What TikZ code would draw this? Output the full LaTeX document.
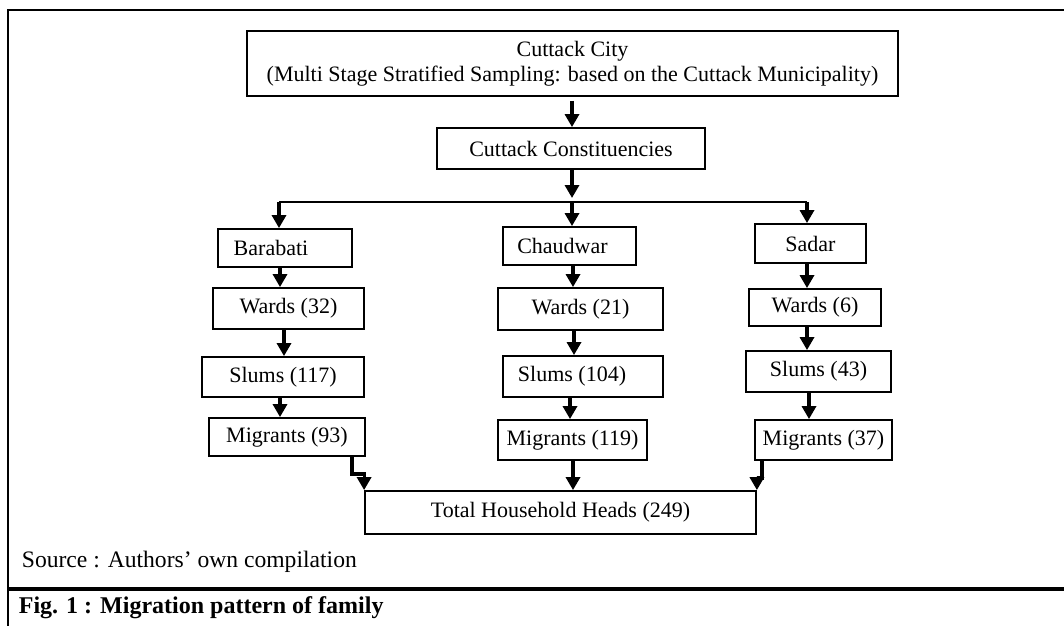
\documentclass[tikz,border=0pt]{standalone}
\usepackage{fontspec}
\setmainfont{Liberation Serif}
\usetikzlibrary{arrows.meta}
\begin{document}
\begin{tikzpicture}[x=0.5pt,y=-0.5pt,
  box/.style={draw, line width=0.9pt, inner sep=0pt, font=\fontsize{11}{12.5}\selectfont, align=center},
  arr/.style={line width=1.6pt, -{Triangle[length=6.5pt,width=7pt]}},
  thinline/.style={line width=0.9pt},
  frameline/.style={line width=1.4pt},
  sepline/.style={line width=1.8pt}]
\useasboundingbox (0,0) rectangle (1064,626);
% frame
\coordinate (fTL) at (8,10);
\coordinate (fTR) at (1064,10);
\coordinate (fBL) at (8,626);
\coordinate (sL) at (8,589);
\coordinate (sR) at (1064,589);
\draw[frameline] (fTR) -- (fTL) -- (fBL);
\draw[sepline] (sL) -- (sR);
% boxes
\node[box, minimum width=325.5pt, minimum height=32.5pt] (top) at (572.5,63.5)
  {Cuttack City\\(Multi Stage Stratified Sampling: based on the Cuttack Municipality)};
\node[box, minimum width=134pt, minimum height=20.5pt] (cons) at (571,148.5) {Cuttack Constituencies};
\node[box, minimum width=67pt, minimum height=19pt] (bara) at (285,248) {\hspace*{-14pt}Barabati};
\node[box, minimum width=66.5pt, minimum height=19pt] (chaud) at (569.5,246) {\hspace*{-7pt}Chaudwar};
\node[box, minimum width=55.5pt, minimum height=19.5pt] (sadar) at (810.5,243.5) {Sadar};
\node[box, minimum width=75.5pt, minimum height=20.5pt] (w32) at (288.5,308.5) {Wards (32)};
\node[box, minimum width=82.5pt, minimum height=21pt] (w21) at (580.5,309) {Wards (21)};
\node[box, minimum width=66pt, minimum height=18.5pt] (w6) at (815,307.5) {Wards (6)};
\node[box, minimum width=81pt, minimum height=20pt] (s117) at (283,377) {Slums (117)};
\node[box, minimum width=80pt, minimum height=20.5pt] (s104) at (583,376.5) {\hspace*{-11pt}Slums (104)};
\node[box, minimum width=72.5pt, minimum height=20.5pt] (s43) at (818.5,371.5) {Slums (43)};
\node[box, minimum width=78pt, minimum height=19pt] (m93) at (287,437) {Migrants (93)};
\node[box, minimum width=74.5pt, minimum height=20pt] (m119) at (572.5,440) {Migrants (119)};
\node[box, minimum width=68.5pt, minimum height=20pt] (m37) at (823.5,440) {Migrants (37)};
\node[box, minimum width=195.5pt, minimum height=21.5pt] (total) at (560.5,512.5) {Total Household Heads (249)};
% texts
\node[anchor=west, inner sep=0pt, font=\fontsize{11.8}{14}\selectfont] (src) at (21.5,562) {Source : Authors’ own compilation};
\node[anchor=west, inner sep=0pt, font=\bfseries\fontsize{12}{14}\selectfont] (cap) at (18.5,608) {Fig. 1 : Migration pattern of family};
% connector coordinates
\coordinate (xL) at (279,202);
\coordinate (xM) at (572,202);
\coordinate (xR) at (807,202);
\coordinate (l1) at (280,0);
\coordinate (l2) at (284,0);
\coordinate (m1) at (573,0);
\coordinate (m2) at (574,0);
\coordinate (m3) at (570,0);
\coordinate (r1) at (807,0);
\coordinate (r2) at (809,0);
\coordinate (j1) at (352,474);
\coordinate (j2) at (762,478);
% connectors
\draw[arr, shorten <=2pt] (top.south -| xM) -- (cons.north -| xM);
\draw[arr, shorten >=2pt] (cons.south -| xM) -- (xM);
\draw[thinline] (xL) -- (xR);
\draw[arr] (xL) -- (bara.north -| xL);
\draw[arr] (xM) -- (chaud.north -| xM);
\draw[arr] (xR) -- (sadar.north -| xR);
\draw[arr] (bara.south -| l1) -- (w32.north -| l1);
\draw[arr] (w32.south -| l2) -- (s117.north -| l2);
\draw[arr] (s117.south -| l1) -- (m93.north -| l1);
\draw[arr] (chaud.south -| m1) -- (w21.north -| m1);
\draw[arr] (w21.south -| m2) -- (s104.north -| m2);
\draw[arr] (s104.south -| m3) -- (m119.north -| m3);
\draw[arr] (m119.south -| m1) -- (total.north -| m1);
\draw[arr] (sadar.south -| r1) -- (w6.north -| r1);
\draw[arr] (w6.south -| r1) -- (s43.north -| r1);
\draw[arr] (s43.south -| r2) -- (m37.north -| r2);
\draw[arr] (m93.south -| j1) -- (j1) -| (total.north west);
\draw[arr] (m37.south -| j2) -- (j2) -| (total.north east);
\end{tikzpicture}
\end{document}
